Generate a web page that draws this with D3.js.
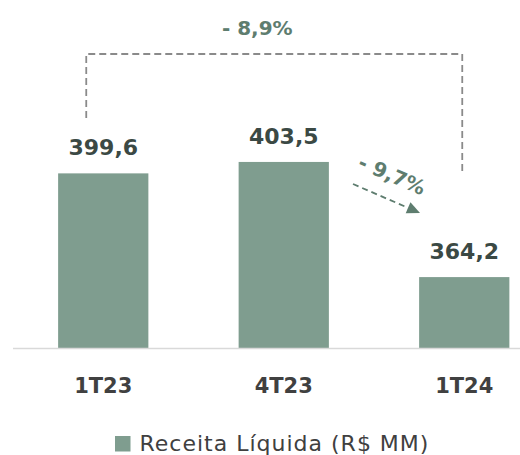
<!DOCTYPE html>
<html>
<head>
<meta charset="utf-8">
<script src="https://cdn.jsdelivr.net/npm/d3@7"></script>
<style>
  html, body { margin: 0; padding: 0; background: #fff; }
  svg { display: block; }
</style>
</head>
<body>
<svg id="chart" width="520" height="455"></svg>
<script>
const categories = ["1T23", "4T23", "1T24"];
const values = [399.6, 403.5, 364.2];
const valueLabels = ["399,6", "403,5", "364,2"];
const seriesName = "Receita Líquida (R$ MM)";
const changeTotal = "- 8,9%";
const changeQoQ = "- 9,7%";

const W = 520, H = 455;
const barColor = "#7f9d8f";
const labelColor = "#3b4944";
const pctColor = "#5e7d6f";
const catColor = "#404040";
const bracketColor = "#8a8a8a";
const fontFam = "'DejaVu Sans', Verdana, sans-serif";

const svg = d3.select("#chart");

const x = d3.scaleBand()
  .domain(categories)
  .range([13, 554.5])
  .paddingInner(0.5)
  .paddingOuter(0.25);

const baseY = 348;
const y = d3.scaleLinear()
  .domain([340, 420])
  .range([baseY, baseY - 80 * 2.93]);

const data = categories.map((c, i) => ({ c, v: values[i], l: valueLabels[i] }));

// bars
svg.append("g").selectAll("rect")
  .data(data).join("rect")
  .attr("x", d => x(d.c))
  .attr("y", d => y(d.v))
  .attr("width", x.bandwidth())
  .attr("height", d => y.range()[0] - y(d.v))
  .attr("fill", barColor);

// axis baseline
const xAxis = d3.axisBottom(x).tickSize(0).tickPadding(0);
const gx = svg.append("g").attr("transform", `translate(0,${baseY})`).call(xAxis);
gx.select(".domain").attr("stroke", "#d9d9d9").attr("stroke-width", 1.5)
  .attr("d", `M13,0.5H${W}`);
gx.selectAll(".tick text")
  .attr("y", 393 - baseY)
  .attr("dy", 0)
  .attr("font-family", fontFam)
  .attr("font-size", 21)
  .attr("font-weight", "bold")
  .attr("fill", catColor);

// value labels
svg.append("g").selectAll("text")
  .data(data).join("text")
  .attr("x", d => x(d.c) + x.bandwidth() / 2)
  .attr("y", d => y(d.v) - 18)
  .attr("text-anchor", "middle")
  .attr("font-family", fontFam)
  .attr("font-size", 22)
  .attr("font-weight", "bold")
  .attr("fill", labelColor)
  .text(d => d.l);

// bracket (1T23 -> 1T24)
const cx0 = x(categories[0]) + x.bandwidth() / 2;
const cx2 = x(categories[2]) + x.bandwidth() / 2;
const bx1 = cx0 - 17, bx2 = cx2 - 2;
const topY = 54;
svg.append("path")
  .attr("d", `M${bx1},118V${topY}H${bx2}V173`)
  .attr("fill", "none")
  .attr("stroke", bracketColor)
  .attr("stroke-width", 1.8)
  .attr("stroke-dasharray", "7,4");

svg.append("text")
  .attr("x", (bx1 + bx2) / 2 - 17)
  .attr("y", 35)
  .attr("text-anchor", "middle")
  .attr("font-family", fontFam)
  .attr("font-size", 20)
  .attr("font-weight", "bold")
  .attr("fill", pctColor)
  .text(changeTotal);

// QoQ arrow
const ax1 = 353, ay1 = 184, ax2 = 420, ay2 = 213;
const ang = Math.atan2(ay2 - ay1, ax2 - ax1);
const headLen = 13, headW = 6;
const hx = ax2 - headLen * Math.cos(ang), hy = ay2 - headLen * Math.sin(ang);
svg.append("line")
  .attr("x1", ax1).attr("y1", ay1)
  .attr("x2", hx).attr("y2", hy)
  .attr("stroke", pctColor)
  .attr("stroke-width", 1.8)
  .attr("stroke-dasharray", "6,4");
const px = -Math.sin(ang), py = Math.cos(ang);
svg.append("path")
  .attr("d", `M${ax2},${ay2}L${hx + px * headW},${hy + py * headW}L${hx - px * headW},${hy - py * headW}Z`)
  .attr("fill", pctColor);

svg.append("text")
  .attr("transform", `translate(392,175) rotate(${ang * 180 / Math.PI})`)
  .attr("y", 7)
  .attr("text-anchor", "middle")
  .attr("font-family", fontFam)
  .attr("font-size", 20)
  .attr("font-weight", "bold")
  .attr("fill", pctColor)
  .text(changeQoQ);

// legend
const lg = svg.append("g");
lg.append("rect")
  .attr("x", 115).attr("y", 436)
  .attr("width", 15.5).attr("height", 15.5)
  .attr("fill", barColor);
lg.append("text")
  .attr("x", 139.5).attr("y", 451)
  .attr("font-family", fontFam)
  .attr("font-size", 22)
  .attr("letter-spacing", 1)
  .attr("fill", catColor)
  .text(seriesName);
</script>
</body>
</html>
